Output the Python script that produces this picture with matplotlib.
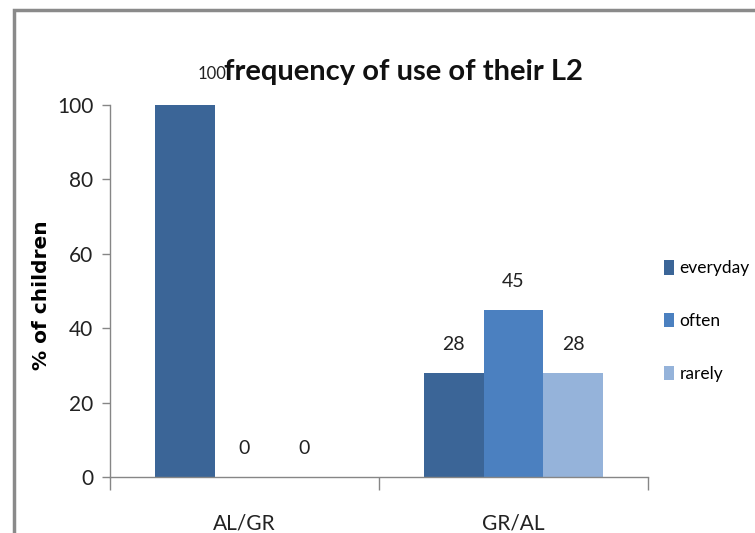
import matplotlib
matplotlib.use('Agg')
import matplotlib.pyplot as plt
from matplotlib.patches import Rectangle, Patch
import numpy as np

# survey data: % of children by language pair and how often they use their L2
groups = ['AL/GR', 'GR/AL']
series = ['everyday', 'often', 'rarely']
everyday = [100, 28]
often = [0, 45]
rarely = [0, 28]
colors = ['#3B6597', '#4B80C0', '#95B3DA']

plt.rcParams['font.family'] = ['Lato', 'DejaVu Sans']

fig = plt.figure(figsize=(7.55, 5.33), dpi=100)
fig.patch.set_facecolor('white')

# grey outer frame running off the right/bottom edges
fig.patches.append(Rectangle((14 / 755, -0.1), 1.2, 1 - 10 / 533 + 0.1,
                             transform=fig.transFigure, fill=False,
                             edgecolor='#8a8a8a', linewidth=2.5))

ax = fig.add_axes([110 / 755, 1 - 477 / 533, 538 / 755, 372 / 533])
x = np.arange(len(groups))
w = 0.223
for i, (name, vals) in enumerate(zip(series, [everyday, often, rarely])):
    pos = x + (i - 1) * w
    ax.bar(pos, vals, w, color=colors[i], label=name, zorder=2)
    for xp, v in zip(pos, vals):
        # the 100 label is smaller and pushed right of its bar
        if v == 100:
            ax.annotate(str(v), (xp, v), xytext=(28, 31), textcoords='offset pixels',
                        ha='center', va='center', fontsize=12, color='#222222')
        else:
            ax.annotate(str(v), (xp, v), xytext=(0, 28), textcoords='offset pixels',
                        ha='center', va='center', fontsize=14, color='#222222')

ax.set_xlim(-0.5, 1.5)
ax.set_ylim(0, 100)
ax.set_yticks([0, 20, 40, 60, 80, 100])
ax.tick_params(axis='y', labelsize=15, length=6, width=1, color='#868686',
               pad=6, labelcolor='#222222')

# ticks between categories, labels centred under each group
ax.set_xticks([-0.5, 0.5, 1.5])
ax.set_xticklabels([])
ax.tick_params(axis='x', which='major', length=9, width=1, color='#868686', direction='out')
ax.set_xticks(x, minor=True)
ax.set_xticklabels(groups, minor=True)
ax.tick_params(axis='x', which='minor', length=0, labelsize=15, pad=26, labelcolor='#222222')

for s in ['top', 'right']:
    ax.spines[s].set_visible(False)
for s in ['left', 'bottom']:
    ax.spines[s].set_color('#868686')
    ax.spines[s].set_linewidth(1)

ax.set_ylabel('% of children', fontsize=14.5, fontweight='bold', family=['DejaVu Sans'])
ax.yaxis.set_label_coords(-0.11, 0.49)

fig.text(404 / 755, 1 - 72 / 533, 'frequency of use of their L2', ha='center', va='center',
         fontsize=21, fontweight='bold', color='#111111')

handles = [Patch(facecolor=c, label=n) for c, n in zip(colors, series)]
fig.legend(handles=handles, loc='center left', bbox_to_anchor=(664 / 755, 1 - 321 / 533),
           frameon=False, fontsize=12.5, handlelength=0.55, borderaxespad=0,
           handleheight=0.9, handletextpad=0.35, labelspacing=2.1, borderpad=0)

fig.savefig('out.png', dpi=100)
